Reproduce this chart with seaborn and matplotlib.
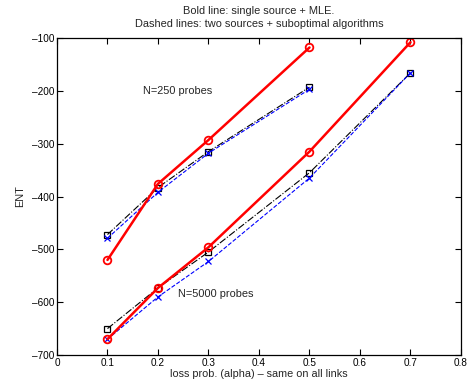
import matplotlib
matplotlib.use("Agg")
import matplotlib.pyplot as plt
import seaborn as sns
import pandas as pd

sns.set_style("white")
plt.rcParams['font.family'] = ['Liberation Sans', 'DejaVu Sans']

# N=250 probes
x250 = [0.1, 0.2, 0.3, 0.5]
mle250 = [-520, -376, -293, -118]
sq250 = [-472, -383, -315, -193]
cr250 = [-479, -392, -318, -197]

# N=5000 probes
x5000 = [0.1, 0.2, 0.3, 0.5, 0.7]
mle5000 = [-670, -573, -496, -315, -108]
sq5000 = [-650, -573, -505, -355, -166]
cr5000 = [-670, -590, -523, -365, -166]

fig = plt.figure(figsize=(4.73, 3.81), dpi=100)
ax = fig.add_axes([0.1205, 0.0682, 0.8541, 0.8321])

def draw(x, y, **kw):
    df = pd.DataFrame({"x": x, "y": y})
    sns.lineplot(data=df, x="x", y="y", ax=ax, sort=False, estimator=None, **kw)

for xs, m, s, c in [(x250, mle250, sq250, cr250), (x5000, mle5000, sq5000, cr5000)]:
    draw(xs, s, color="black", linestyle="-.", linewidth=0.8, marker="s",
         markersize=4.5, markerfacecolor="none", markeredgecolor="black", markeredgewidth=0.9)
    draw(xs, c, color="blue", linestyle="--", linewidth=0.8, marker="x",
         markersize=4.5, markeredgecolor="blue", markeredgewidth=0.9)
    draw(xs, m, color="red", linestyle="-", linewidth=1.8, marker="o",
         markersize=5.5, markerfacecolor="none", markeredgecolor="red", markeredgewidth=1.3)

ax.set_xlim(0, 0.8)
ax.set_ylim(-700, -100)
ax.set_xticks([0, 0.1, 0.2, 0.3, 0.4, 0.5, 0.6, 0.7, 0.8])
ax.set_xticklabels(["0", "0.1", "0.2", "0.3", "0.4", "0.5", "0.6", "0.7", "0.8"])
ax.set_yticks([-700, -600, -500, -400, -300, -200, -100])
ax.set_yticklabels(["\u2013700", "\u2013600", "\u2013500", "\u2013400", "\u2013300", "\u2013200", "\u2013100"])
ax.tick_params(direction="in", length=4, width=0.8, labelsize=7.2, top=True, right=True,
               bottom=True, left=True, pad=2, colors="black")
for sp in ax.spines.values():
    sp.set_visible(True)
    sp.set_color("black")
    sp.set_linewidth(0.9)

ax.set_xlabel("loss prob. (alpha) \u2013 same on all links", fontsize=7.8, labelpad=1)
ax.set_ylabel("ENT", fontsize=7.8, labelpad=5)
ax.set_title("Bold line: single source + MLE.\nDashed lines: two sources + suboptimal algorithms",
             fontsize=7.9, pad=8, linespacing=1.35)

ax.text(0.17, -200, "N=250 probes", fontsize=7.9, va="center", ha="left")
ax.text(0.24, -585, "N=5000 probes", fontsize=7.9, va="center", ha="left")

fig.savefig("out.png", dpi=100)
